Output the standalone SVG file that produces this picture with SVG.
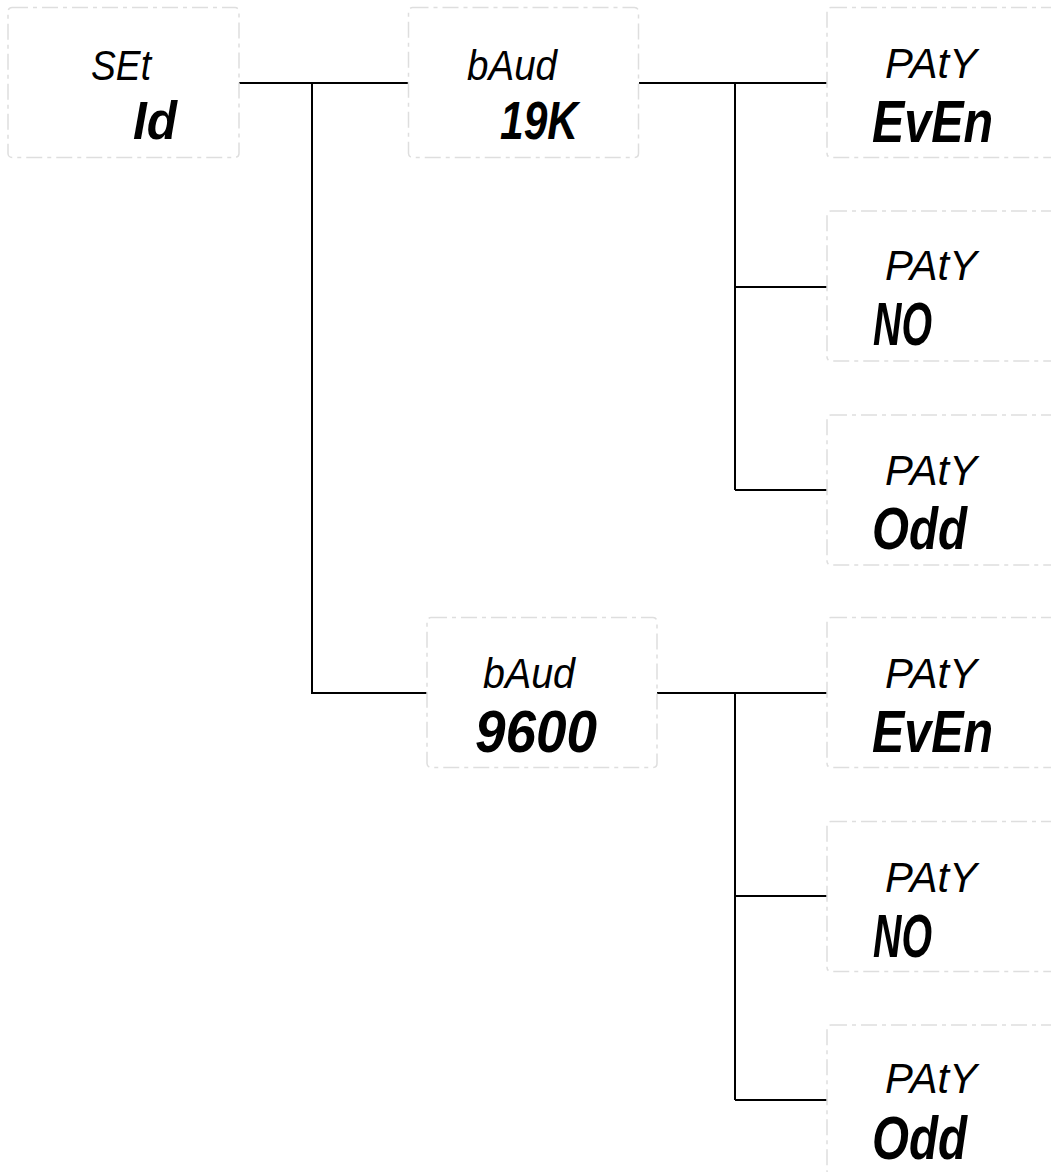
<svg xmlns="http://www.w3.org/2000/svg" width="1051" height="1172" viewBox="0 0 1051 1172">
<style>
.box{fill:#fff;stroke:#dedede;stroke-width:1.5;stroke-dasharray:16 5 4 5}
.t1{font-family:"Liberation Sans",Arial,sans-serif;font-style:italic;font-size:42px;fill:#000}
.t2{font-family:"Liberation Sans",Arial,sans-serif;font-style:italic;font-weight:bold;fill:#000}
.conn{fill:none;stroke:#000;stroke-width:2}
</style>
<rect width="1051" height="1172" fill="#fff"/>
<g id="connectors">
<path class="conn" d="M239 83H408M312 83V693H427"/>
<path class="conn" d="M639 83H827M735 83V490M735 287H827M735 490H827"/>
<path class="conn" d="M657 693H827M735 693V1100M735 896H827M735 1100H827"/>
</g>
<g id="set-id">
<rect class="box" x="8" y="7.5" width="231" height="150" rx="4"/>
<text class="t1" x="91" y="80" textLength="60" lengthAdjust="spacingAndGlyphs">SEt</text>
<text class="t2" x="133" y="139" font-size="54" textLength="44" lengthAdjust="spacingAndGlyphs">Id</text>
</g>
<g id="baud-19k">
<rect class="box" x="408.5" y="7.5" width="230" height="150" rx="4"/>
<text class="t1" x="467" y="80" textLength="90" lengthAdjust="spacingAndGlyphs">bAud</text>
<text class="t2" x="500" y="139" font-size="54" textLength="78" lengthAdjust="spacingAndGlyphs">19K</text>
</g>
<g id="baud-9600">
<rect class="box" x="427" y="617.5" width="230" height="150" rx="4"/>
<text class="t1" x="483" y="688" textLength="92" lengthAdjust="spacingAndGlyphs">bAud</text>
<text class="t2" x="475" y="752" font-size="60" textLength="122" lengthAdjust="spacingAndGlyphs">9600</text>
</g>
<g id="paty-even-1">
<rect class="box" x="827" y="7.5" width="240" height="150" rx="4"/>
<text class="t1" x="885" y="78" textLength="92" lengthAdjust="spacingAndGlyphs">PAtY</text>
<text class="t2" x="872" y="142" font-size="60" textLength="121" lengthAdjust="spacingAndGlyphs">EvEn</text>
</g>
<g id="paty-no-1">
<rect class="box" x="827" y="211" width="240" height="150" rx="4"/>
<text class="t1" x="885" y="280" textLength="92" lengthAdjust="spacingAndGlyphs">PAtY</text>
<text class="t2" x="873" y="345" font-size="61" textLength="59" lengthAdjust="spacingAndGlyphs">NO</text>
</g>
<g id="paty-odd-1">
<rect class="box" x="827" y="415" width="240" height="150" rx="4"/>
<text class="t1" x="885" y="485" textLength="92" lengthAdjust="spacingAndGlyphs">PAtY</text>
<text class="t2" x="872" y="549" font-size="60" textLength="95" lengthAdjust="spacingAndGlyphs">Odd</text>
</g>
<g id="paty-even-2">
<rect class="box" x="827" y="617.5" width="240" height="150" rx="4"/>
<text class="t1" x="885" y="688" textLength="92" lengthAdjust="spacingAndGlyphs">PAtY</text>
<text class="t2" x="872" y="752" font-size="60" textLength="121" lengthAdjust="spacingAndGlyphs">EvEn</text>
</g>
<g id="paty-no-2">
<rect class="box" x="827" y="821.5" width="240" height="150" rx="4"/>
<text class="t1" x="885" y="892" textLength="92" lengthAdjust="spacingAndGlyphs">PAtY</text>
<text class="t2" x="873" y="957" font-size="61" textLength="59" lengthAdjust="spacingAndGlyphs">NO</text>
</g>
<g id="paty-odd-2">
<rect class="box" x="827" y="1025" width="240" height="150" rx="4"/>
<text class="t1" x="885" y="1093" textLength="92" lengthAdjust="spacingAndGlyphs">PAtY</text>
<text class="t2" x="872" y="1159" font-size="62" textLength="95" lengthAdjust="spacingAndGlyphs">Odd</text>
</g>
</svg>
